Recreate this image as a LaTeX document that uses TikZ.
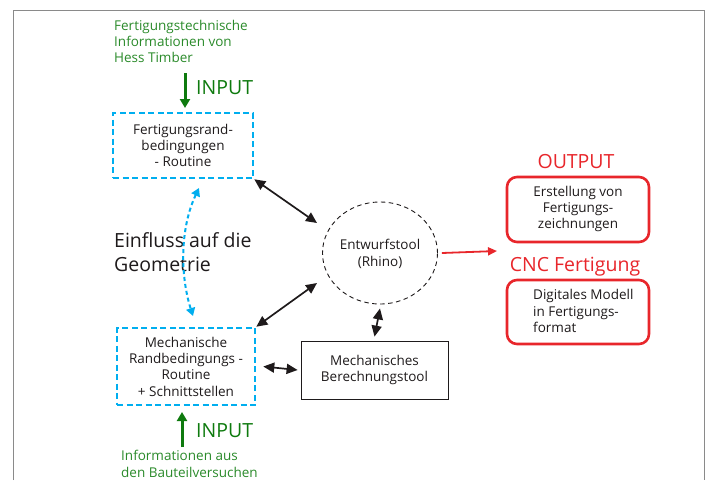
\documentclass[tikz,border=0pt]{standalone}
\usepackage{fontspec}
\setmainfont{Open Sans}
\usetikzlibrary{arrows.meta,shapes.geometric}
\definecolor{txt}{HTML}{1E1A1B}
\definecolor{gtxt}{HTML}{2A8A2A}
\definecolor{garrow}{HTML}{0E7A0E}
\definecolor{bl}{HTML}{00AEEF}
\definecolor{rd}{HTML}{E8262B}
\definecolor{frame}{HTML}{8A8A8A}
\tikzset{
  small/.style={font=\fontsize{13.5}{16.3}\selectfont, text=txt, inner sep=0pt, align=center},
  gsmall/.style={font=\fontsize{13.5}{16.3}\selectfont, text=gtxt, inner sep=0pt, align=left},
  big/.style={font=\fontsize{19.5}{24}\selectfont, inner sep=0pt},
  bluebox/.style={draw=bl, line width=2.6pt, dash pattern=on 6pt off 3.5pt, inner sep=0pt},
  redbox/.style={draw=rd, line width=2.6pt, rounded corners=10pt, inner sep=0pt},
  dbl/.style={{Triangle[length=11pt,width=10pt]}-{Triangle[length=11pt,width=10pt]}, line width=1.7pt, draw=txt},
  garr/.style={-{Triangle[length=9pt,width=10pt]}, line width=3pt, draw=garrow},
}
\begin{document}
\begin{tikzpicture}[x=1pt,y=-1pt]
\useasboundingbox (0,0) rectangle (708,480);
% frame
\draw[frame, line width=0.8pt] (13,480) -- (13,10) -- (704,10) -- (704,480);

% top green info
\node[gsmall, anchor=west] (tinfo) at (114,41.5) {Fertigungstechnische\\Informationen von\\Hess Timber};
\coordinate (ta) at (185,73);
\coordinate (tb) at (185,108);
\draw[garr] (ta) -- (tb);
\node[big, text=garrow, anchor=west] (in1) at (196,88) {INPUT};

% box 1
\node[bluebox, minimum width=140pt, minimum height=65pt] (b1) at (183,145.5) {};
\node[small] (b1t) at (183,145.5) {Fertigungsrand-\\bedingungen\\- Routine};

% Einfluss
\node[big, text=txt, anchor=west, align=left] (einf) at (114,252) {Einfluss auf die\\Geometrie};

% blue curve
\coordinate (cu1) at (199,188);
\coordinate (cu2) at (193,316);
\draw[bl, line width=2pt, dash pattern=on 4pt off 3pt, {Triangle[length=8pt,width=9pt]}-{Triangle[length=8pt,width=9pt]}] (cu1) .. controls (180,228) and (180,275) .. (cu2);

% circle
\node[draw=txt, dash pattern=on 4.5pt off 3.5pt, line width=0.9pt, ellipse, minimum width=115pt, minimum height=102pt, inner sep=0pt] (c) at (380,253) {};
\node[small] (ct) at (380,254) {Entwurfstool\\(Rhino)};

% box 2
\node[bluebox, minimum width=138pt, minimum height=77pt] (b2) at (186,366.5) {};
\node[small] (b2t) at (186,366.5) {Mechanische\\Randbedingungs -\\Routine\\+ Schnittstellen};

% mechanical tool
\node[draw=txt, line width=0.8pt, minimum width=147pt, minimum height=58pt, inner sep=0pt] (mb) at (374.5,370) {};
\node[small] (mbt) at (374.5,370) {Mechanisches\\Berechnungstool};

% black double arrows
\coordinate (d1) at (317,223);
\coordinate (d2) at (317,283);
\draw[dbl] (b1.south east) -- (d1);
\draw[dbl] (b2.north east) -- (d2);
\draw[dbl] ([yshift=-4pt]c.south) -- ([yshift=4pt]mb.north);
\draw[dbl] ([xshift=7pt]b2.east) -- ([xshift=-3pt]mb.west);

% bottom green
\coordinate (ba) at (182,447);
\coordinate (bb) at (182,412);
\draw[garr] (ba) -- (bb);
\node[big, text=garrow, anchor=west] (in2) at (196,431) {INPUT};
\node[gsmall, anchor=west] (binfo) at (121,464) {Informationen aus\\den Bauteilversuchen};

% red arrow
\coordinate (ra) at (497,251);
\draw[rd, line width=1.8pt, -{Triangle[length=9pt,width=8pt]}] ([xshift=4pt]c.east) -- (ra);

% output
\node[big, text=rd] (out) at (576,162) {OUTPUT};
\node[redbox, minimum width=142pt, minimum height=65pt] (r1) at (578,209.5) {};
\node[small] (r1t) at (578,209) {Erstellung von\\Fertigungs-\\zeichnungen};
\node[big, text=rd] (cnc) at (575,267) {CNC Fertigung};
\node[redbox, minimum width=142pt, minimum height=64pt] (r2) at (578,312) {};
\node[small, align=left, anchor=west] (r2t) at (533,311) {Digitales Modell\\in Fertigungs-\\format};
\end{tikzpicture}
\end{document}
